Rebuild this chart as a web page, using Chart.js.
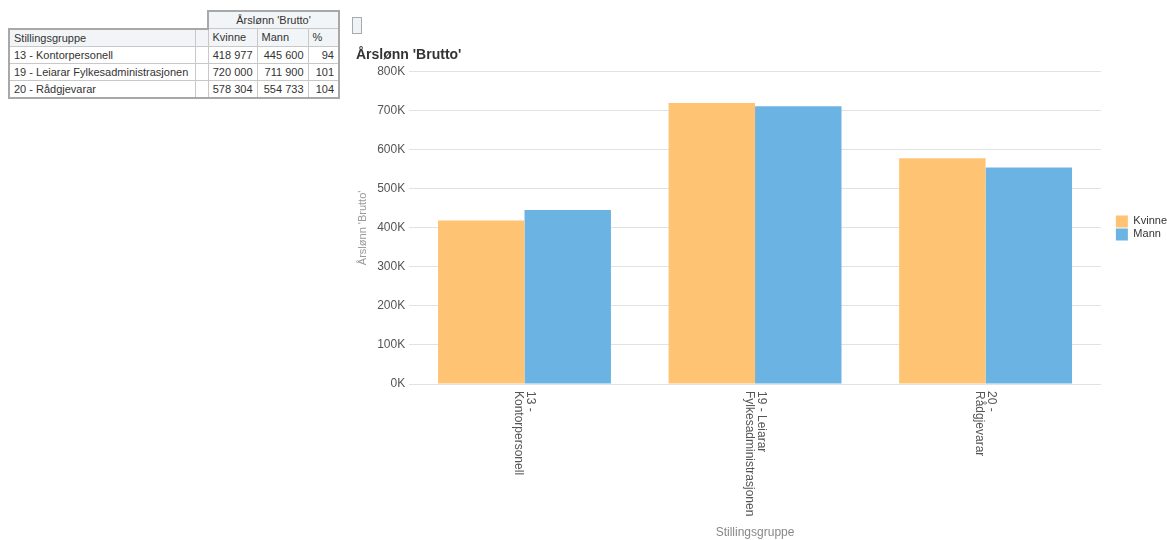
<!DOCTYPE html>
<html>
<head>
<meta charset="utf-8">
<script src="https://cdn.jsdelivr.net/npm/chart.js@4/dist/chart.umd.min.js"></script>
<style>
  body { margin: 0; background: #fff; font-family: "Liberation Sans", Arial, sans-serif; overflow: hidden; }
  #tbl { position: absolute; left: 8px; top: 10px; border-collapse: collapse; table-layout: fixed; font-size: 11px; color: #333; }
  #tbl td { height: 16px; padding: 0 4px; border: 1px solid #c8c8c8; white-space: nowrap; overflow: hidden; }
  #tbl td.hd { background: #f2f5f7; }
  #tbl td.num { text-align: right; }
  #tbl td.blank { border: none; border-bottom: 2px solid #a8a8a8; }
  #tbl tr.top td.hd { border: 2px solid #a8a8a8; border-bottom: 1px solid #c8c8c8; text-align: center; }
  #tbl .ol { border-left: 2px solid #a8a8a8 !important; }
  #tbl .or { border-right: 2px solid #a8a8a8 !important; }
  #tbl tr.last td { border-bottom: 2px solid #a8a8a8; }
  #icon { position: absolute; left: 352px; top: 17px; width: 8px; height: 15px; border: 1px solid #aaa; background: #eef3f8; }
  #wrap { position: absolute; left: 356px; top: 40px; width: 821px; height: 500px; }
</style>
</head>
<body>
<table id="tbl">
  <colgroup><col style="width:186px"><col style="width:13px"><col style="width:49px"><col style="width:51px"><col style="width:31px"></colgroup>
  <tbody id="tb"></tbody>
</table>
<div id="icon"></div>
<div id="wrap"><canvas id="c"></canvas></div>
<script>
const categories = ['13 - Kontorpersonell', '19 - Leiarar Fylkesadministrasjonen', '20 - Rådgjevarar'];
const xLabelLines = [['13 -', 'Kontorpersonell'], ['19 - Leiarar', 'Fylkesadministrasjonen'], ['20 -', 'Rådgjevarar']];
const kvinne = [418977, 720000, 578304];
const mann = [445600, 711900, 554733];
const prosent = [94, 101, 104];
const yTicks = [0, 100000, 200000, 300000, 400000, 500000, 600000, 700000, 800000];

// tabell
const fmt = v => String(v).replace(/\B(?=(\d{3})+(?!\d))/g, ' ');
let html = '<tr class="top"><td class="blank" colspan="2"></td><td class="hd" colspan="3">Årslønn \'Brutto\'</td></tr>';
html += '<tr><td class="hd ol">Stillingsgruppe</td><td class="hd"></td>'
  + '<td class="hd">Kvinne</td><td class="hd">Mann</td><td class="hd or">%</td></tr>';
categories.forEach((c, i) => {
  html += '<tr' + (i === categories.length - 1 ? ' class="last"' : '') + '><td class="ol">' + c + '</td><td></td>'
    + '<td class="num">' + fmt(kvinne[i]) + '</td><td class="num">' + fmt(mann[i]) + '</td><td class="num or">' + prosent[i] + '</td></tr>';
});
document.getElementById('tb').innerHTML = html;

// roterte x-etiketter
const rotatedLabels = {
  id: 'rotatedLabels',
  afterDraw(chart) {
    const scale = chart.scales.x;
    const ctx = chart.ctx;
    ctx.save();
    ctx.font = '12px "Liberation Sans", Arial, sans-serif';
    ctx.fillStyle = '#555';
    ctx.textAlign = 'left';
    ctx.textBaseline = 'middle';
    xLabelLines.forEach((lines, i) => {
      const x = scale.getPixelForTick(i);
      ctx.save();
      ctx.translate(x, scale.top + 7);
      ctx.rotate(Math.PI / 2);
      lines.forEach((t, j) => ctx.fillText(t, 0, (j - (lines.length - 1) / 2) * 12));
      ctx.restore();
    });
    ctx.restore();
  }
};

// litt luft mellom plott og forklaring
const legendGap = {
  id: 'legendGap',
  afterInit(chart) {
    const lg = chart.legend;
    const fit = lg.fit;
    lg.fit = function () { fit.call(this); this.width += 14; };
  },
  afterLayout(chart) {
    chart.legend.left += 14;
  }
};

Chart.defaults.font.family = '"Liberation Sans", Arial, sans-serif';

new Chart(document.getElementById('c'), {
  type: 'bar',
  data: {
    labels: categories,
    datasets: [
      { label: 'Kvinne', data: kvinne, backgroundColor: '#ffc374' },
      { label: 'Mann', data: mann, backgroundColor: '#6bb3e3' }
    ]
  },
  options: {
    responsive: true,
    maintainAspectRatio: false,
    animation: false,
    categoryPercentage: 0.75,
    barPercentage: 1,
    scales: {
      x: {
        grid: { display: false },
        border: { display: false },
        ticks: { display: false },
        afterFit(scale) { scale.height = 156; },
        title: { display: true, text: 'Stillingsgruppe', color: '#888', font: { size: 12 }, padding: { top: 0, bottom: 0 } }
      },
      y: {
        min: 0,
        max: 800000,
        afterBuildTicks(scale) { scale.ticks = yTicks.map(v => ({ value: v })); },
        ticks: { color: '#555', font: { size: 12 }, padding: 4, callback: v => (v / 1000) + 'K' },
        grid: { color: '#e2e2e2', drawTicks: false },
        border: { display: false },
        title: { display: true, text: "Årslønn 'Brutto'", color: '#999', font: { size: 11 }, padding: { top: 0, bottom: 4 } }
      }
    },
    plugins: {
      title: { display: true, text: "Årslønn 'Brutto'", align: 'start', color: '#333', font: { size: 14, weight: 'bold' }, padding: { top: 7, bottom: 8 } },
      legend: {
        position: 'right',
        fullSize: false,
        labels: { boxWidth: 12, boxHeight: 12, padding: 1, color: '#333', font: { size: 11 } }
      },
      tooltip: { enabled: false }
    }
  },
  plugins: [rotatedLabels, legendGap]
});
</script>
</body>
</html>
